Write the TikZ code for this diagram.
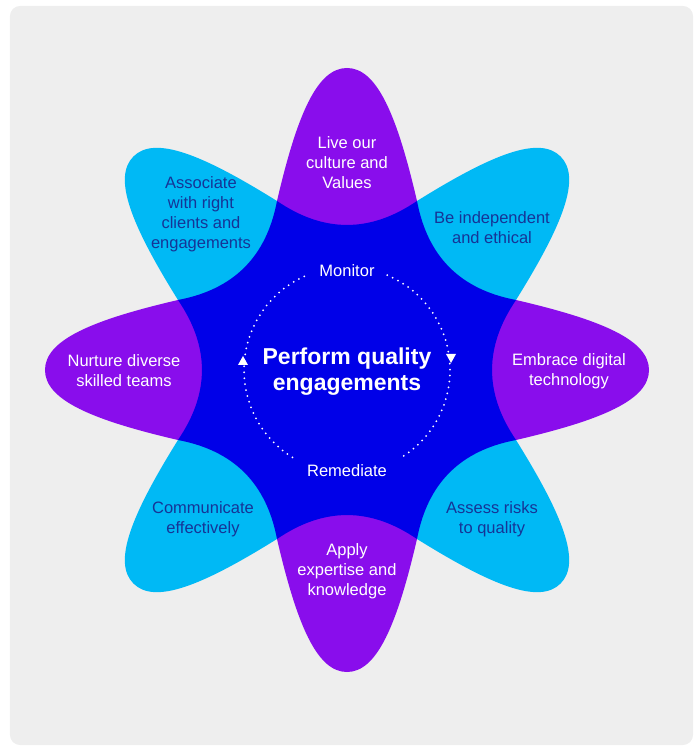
\documentclass[tikz,border=0pt]{standalone}
\usepackage{fontspec}
\setmainfont{Liberation Sans}
\usetikzlibrary{backgrounds}
\definecolor{panel}{RGB}{238,238,238}
\definecolor{grape}{RGB}{137,13,236}
\definecolor{sky}{RGB}{0,185,245}
\definecolor{core}{RGB}{0,0,232}
\definecolor{ink}{RGB}{22,52,150}

\begin{document}
\begin{tikzpicture}
	[x=1pt,y=1pt,
	every node/.style={align=center,inner sep=0pt,font=\fontsize{16.5}{20}\selectfont},
	petal/.style={fill=#1},
	onpurple/.style={text=white},
	oncyan/.style={text=ink},
	loop/.style={draw=white,line width=2pt,line cap=round,dash pattern=on 0pt off 6pt},
	tip/.style={fill=white}]
	\useasboundingbox (-347,-376) rectangle (353,370);
	\fill[panel,rounded corners=10pt] (-337,-375) rectangle (346,364);
	\foreach \a/\c in {0/grape,45/sky,90/grape,135/sky,180/grape,225/sky,270/grape,315/sky}
		\fill[petal=\c,rotate=\a] (0,0) -- (169,70) .. controls (255,50) and (302,30) .. (302,0)
			.. controls (302,-30) and (255,-50) .. (169,-70) -- cycle;
	\fill[core] (-22.5:183) \foreach \a in {0,45,...,315} {
		.. controls ({\a-9.65}:139) and ({\a+9.65}:139) .. ({\a+22.5}:183)} -- cycle;
	\node[onpurple] (live) at (0,207) {Live our\\culture and\\Values};
	\node[oncyan] (indep) at (145,142) {Be independent\\and ethical};
	\node[onpurple] (digital) at (222,-1) {Embrace digital\\technology};
	\node[oncyan] (risks) at (145,-149) {Assess risks\\to quality};
	\node[onpurple] (expert) at (0,-201) {Apply\\expertise and\\knowledge};
	\node[oncyan] (comm) at (-144,-149) {Communicate\\effectively};
	\node[onpurple] (teams) at (-223,-1) {Nurture diverse\\skilled teams};
	\node[oncyan] (assoc) at (-146,156) {Associate\\with right\\clients and\\engagements};
	\node[text=white,font=\fontsize{23}{26}\selectfont\bfseries] (perform) at (0,-2) {Perform quality\\engagements};
	\node[text=white] (monitor) at (0,99) {Monitor};
	\node[text=white] (remedy) at (0,-101) {Remediate};
	\draw[loop] (67:103) arc[start angle=67,end angle=-58,radius=103];
	\draw[loop] (238:103) arc[start angle=238,end angle=113,radius=103];
	\fill[tip] (99,16) -- (109,16) -- (104,7) -- cycle;
	\fill[tip] (-109,5) -- (-99,5) -- (-104,14) -- cycle;
\end{tikzpicture}
\end{document}
